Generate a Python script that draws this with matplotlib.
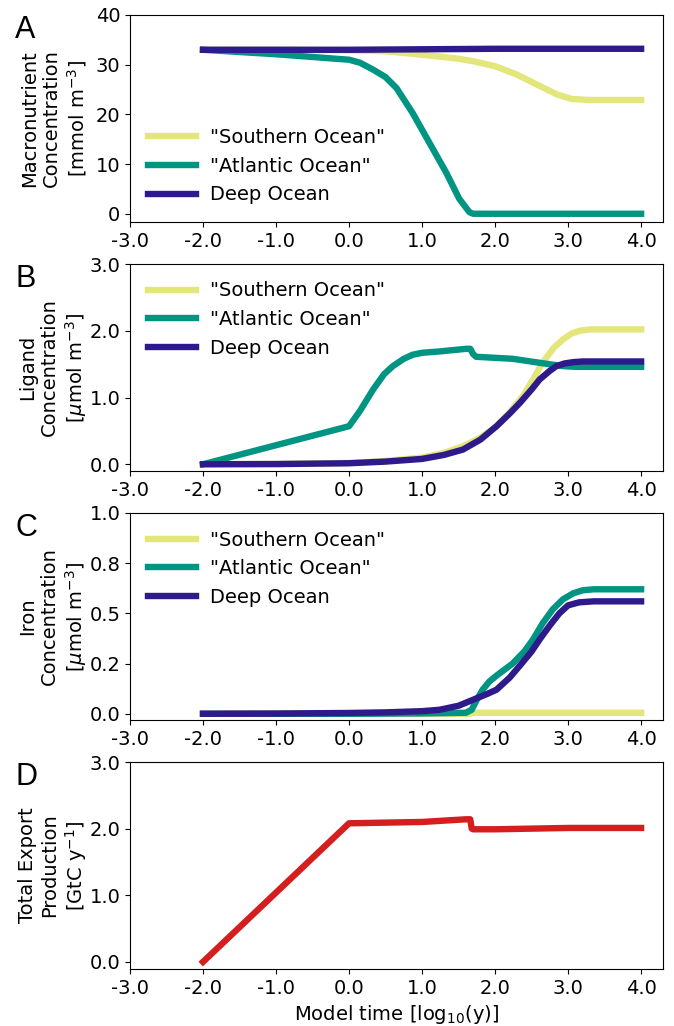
import matplotlib
matplotlib.use("Agg")
import matplotlib.pyplot as plt
import matplotlib.ticker as mticker

plt.rcParams["font.family"] = ["DejaVu Sans"]
plt.rcParams["font.size"] = 14
plt.rcParams["axes.unicode_minus"] = False

labels = ['"Southern Ocean"', '"Atlantic Ocean"', "Deep Ocean"]
colors = ["#e3e67b", "#009482", "#2e1a8b"]
export_color = "#d51e1e"

# Panel A: macronutrient concentration [mmol m-3]
a_so_x = [-2, -1, 0, 0.5, 0.8, 1.2, 1.5, 1.7, 2.0, 2.3, 2.6, 2.85, 3.05, 3.3, 4]
a_so_y = [33, 33, 32.9, 32.7, 32.3, 31.7, 31.2, 30.7, 29.7, 28.0, 25.8, 24.0, 23.1, 22.9, 22.9]
a_at_x = [-2, -1, 0, 0.15, 0.33, 0.5, 0.65, 0.87, 1.1, 1.33, 1.51, 1.65, 1.7, 4]
a_at_y = [33, 32.1, 31.0, 30.4, 29.0, 27.5, 25.3, 20.3, 14.3, 8.3, 3.0, 0.3, 0, 0]
a_dp_x = [-2, 0, 1, 2, 3, 4]
a_dp_y = [33.0, 33.0, 33.1, 33.2, 33.2, 33.2]

# Panel B: ligand concentration [umol m-3]
b_so_x = [-2, -1, 0, 0.5, 1.0, 1.3, 1.56, 1.8, 2.02, 2.2, 2.38, 2.52, 2.65, 2.8, 2.93, 3.05, 3.16, 3.3, 4]
b_so_y = [0, 0.005, 0.02, 0.05, 0.1, 0.17, 0.27, 0.4, 0.57, 0.78, 1.02, 1.27, 1.52, 1.74, 1.87, 1.96, 2.0, 2.02, 2.02]
b_at_x = [-2, 0, 0.15, 0.33, 0.48, 0.6, 0.75, 0.87, 1.0, 1.24, 1.61, 1.66, 1.7, 1.74, 2.24, 2.61, 2.93, 3.1, 4]
b_at_y = [0, 0.57, 0.8, 1.12, 1.35, 1.47, 1.58, 1.64, 1.67, 1.69, 1.73, 1.73, 1.65, 1.61, 1.58, 1.52, 1.47, 1.46, 1.46]
b_dp_x = [-2, -1, 0, 0.5, 1.0, 1.3, 1.56, 1.8, 2.02, 2.2, 2.34, 2.5, 2.61, 2.75, 2.84, 2.95, 3.07, 3.2, 4]
b_dp_y = [0, 0.003, 0.015, 0.04, 0.08, 0.14, 0.22, 0.37, 0.57, 0.76, 0.92, 1.12, 1.27, 1.40, 1.47, 1.51, 1.53, 1.54, 1.54]

# Panel C: iron concentration [umol m-3]
c_so_x = [-2, 0, 1, 1.65, 1.7, 2, 3, 4]
c_so_y = [0, 0, 0, 0, 0.005, 0.005, 0.005, 0.005]
c_at_x = [-2, 0, 1, 1.6, 1.68, 1.75, 1.83, 1.92, 2.02, 2.24, 2.4, 2.52, 2.65, 2.79, 2.93, 3.07, 3.2, 3.35, 4]
c_at_y = [0, 0, 0.002, 0.005, 0.02, 0.07, 0.12, 0.16, 0.19, 0.25, 0.31, 0.37, 0.45, 0.52, 0.57, 0.60, 0.615, 0.62, 0.62]
c_dp_x = [-2, -1, 0, 0.5, 1.0, 1.24, 1.5, 1.7, 1.9, 2.02, 2.2, 2.34, 2.5, 2.61, 2.75, 2.88, 3.0, 3.15, 3.35, 4]
c_dp_y = [0, 0.001, 0.004, 0.007, 0.013, 0.02, 0.04, 0.07, 0.10, 0.12, 0.18, 0.24, 0.31, 0.37, 0.44, 0.50, 0.54, 0.555, 0.56, 0.56]

# Panel D: total export production [GtC y-1]
d_x = [-2, 0, 0.5, 1.0, 1.3, 1.6, 1.66, 1.68, 1.7, 2.0, 2.5, 3.0, 3.5, 4]
d_y = [0, 2.08, 2.09, 2.10, 2.12, 2.14, 2.14, 2.0, 1.99, 1.99, 2.0, 2.01, 2.01, 2.01]

xticks = [-3, -2, -1, 0, 1, 2, 3, 4]

fig = plt.figure(figsize=(6.74, 10.26), dpi=100)
W, H = 674, 1026
left, right = 130, 663
tops = [15, 264, 513, 762]
height = 207
axes = []
for t in tops:
    axes.append(fig.add_axes([left / W, 1 - (t + height) / H, (right - left) / W, height / H]))

panels = [
    ([(a_so_x, a_so_y), (a_at_x, a_at_y), (a_dp_x, a_dp_y)], 40, "Macronutrient\nConcentration\n[mmol m$^{-3}$]", "lower left"),
    ([(b_so_x, b_so_y), (b_at_x, b_at_y), (b_dp_x, b_dp_y)], 3.0, "Ligand\nConcentration\n[$\\mu$mol m$^{-3}$]", "upper left"),
    ([(c_so_x, c_so_y), (c_at_x, c_at_y), (c_dp_x, c_dp_y)], 1.0, "Iron\nConcentration\n[$\\mu$mol m$^{-3}$]", "upper left"),
]

for ax, (series, top, ylabel, loc) in zip(axes[:3], panels):
    for (x, y), c, lab in zip(series, colors, labels):
        ax.plot(x, y, color=c, lw=4.6, label=lab, solid_capstyle="projecting")
    ax.set_ylim(top=top)
    ax.set_ylabel(ylabel)
    ax.legend(loc=loc, frameon=False, handlelength=2.5, handletextpad=0.7)

axes[3].plot(d_x, d_y, color=export_color, lw=4.6, solid_capstyle="projecting")
axes[3].set_ylim(top=3.0)
axes[3].set_ylabel("Total Export\nProduction\n[GtC y$^{-1}$]")
axes[3].set_xlabel("Model time [log$_{10}$(y)]")

axes[0].set_yticks([0, 10, 20, 30, 40])
axes[1].set_yticks([0, 1, 2, 3])
axes[2].set_yticks([0, 0.25, 0.5, 0.75, 1.0])
axes[3].set_yticks([0, 1, 2, 3])

for i, ax in enumerate(axes):
    ax.set_xlim(-3, 4.3)
    ax.set_xticks(xticks)
    ax.xaxis.set_major_formatter(mticker.FormatStrFormatter("%.1f"))
    if i > 0:
        ax.yaxis.set_major_formatter(mticker.FormatStrFormatter("%.1f"))
    ax.yaxis.set_label_coords(-0.077, 0.5)
    ax.text(-0.215, 1.0, "ABCD"[i], transform=ax.transAxes, fontsize=22,
            family="Liberation Sans", va="top", ha="left")

fig.savefig("out.png", dpi=100)
